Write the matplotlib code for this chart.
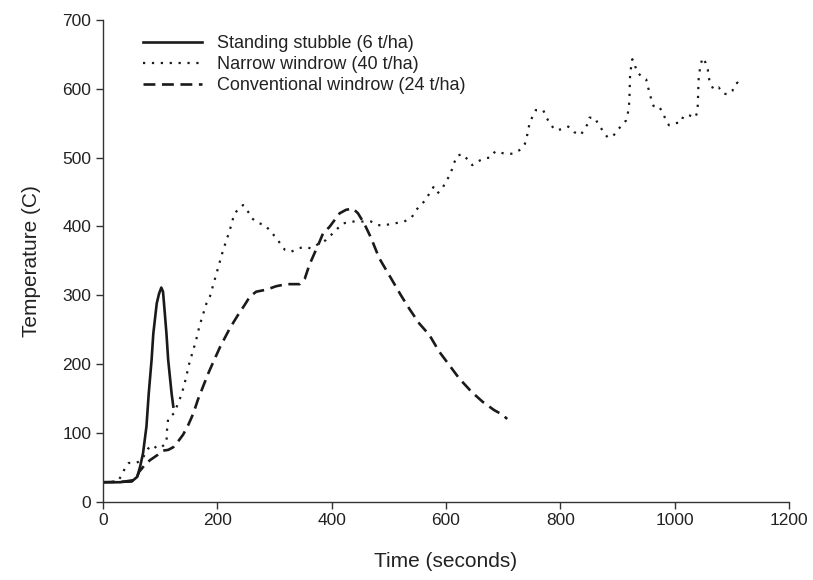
import matplotlib
matplotlib.use("Agg")
import matplotlib.pyplot as plt

plt.rcParams['font.family'] = ['Liberation Sans', 'DejaVu Sans']

# Standing stubble (6 t/ha)
stub_t = [0, 30, 53, 60, 65, 70, 76, 80, 85, 88, 94, 98, 102, 105, 108, 111, 114, 120, 123]
stub_T = [28, 28, 31, 36, 51, 70, 109, 157, 206, 244, 288, 302, 311, 305, 275, 244, 206, 157, 138]

# Narrow windrow (40 t/ha)
narrow_t = [0, 25, 33, 38, 45, 58, 67, 73, 79, 88, 94, 102, 111, 112, 114, 117, 124, 130, 138, 145,
            150, 163, 169, 181, 187, 198, 210, 222, 230, 245, 254, 260, 271, 283, 294, 303, 318, 329,
            341, 353, 364, 378, 390, 402, 419, 434, 452, 469, 480, 492, 504, 515, 527, 540, 548, 556,
            565, 571, 578, 585, 594, 599, 606, 611, 614, 620, 629, 638, 646, 655, 667, 678, 686, 696,
            707, 719, 731, 738, 741, 744, 746, 751, 757, 770, 776, 782, 791, 802, 814, 824, 836, 842,
            849, 851, 860, 867, 875, 883, 893, 901, 909, 915, 918, 920, 921, 922, 924, 926, 931, 934,
            941, 950, 953, 956, 959, 963, 972, 978, 984, 990, 1001, 1011, 1015, 1024, 1036, 1040, 1041,
            1042, 1045, 1049, 1054, 1058, 1059, 1062, 1068, 1077, 1085, 1093, 1101, 1105, 1110, 1116]
narrow_T = [28, 29, 38, 48, 56, 56, 60, 68, 77, 82, 77, 79, 85, 104, 121, 123, 128, 140, 157, 179,
            198, 235, 256, 288, 298, 330, 365, 395, 419, 431, 421, 412, 405, 402, 392, 383, 366, 363,
            368, 370, 368, 375, 380, 390, 404, 407, 407, 407, 402, 401, 404, 405, 407, 413, 424, 431,
            439, 448, 457, 448, 455, 465, 473, 484, 492, 503, 505, 497, 489, 494, 499, 500, 509, 507,
            505, 506, 512, 520, 529, 540, 550, 559, 569, 569, 558, 549, 540, 541, 545, 537, 533, 542,
            550, 558, 558, 548, 538, 529, 532, 541, 548, 554, 564, 574, 590, 620, 633, 643, 633, 624,
            619, 614, 604, 594, 585, 575, 575, 567, 556, 547, 550, 551, 560, 562, 558, 567, 590,
            615, 634, 645, 638, 628, 618, 609, 599, 602, 593, 592, 597, 606, 609, 600]

# Conventional windrow (24 t/ha)
conv_t = [0, 50, 58, 63, 73, 82, 96, 105, 114, 123, 131, 140, 149, 158, 166, 175, 184, 193, 205, 222,
          236, 248, 257, 268, 286, 303, 321, 344, 353, 361, 370, 379, 385, 396, 405, 414, 425, 437,
          446, 457, 469, 483, 495, 507, 521, 536, 553, 571, 588, 606, 623, 644, 664, 684, 699, 707]
conv_T = [28, 29, 33, 43, 53, 60, 68, 74, 75, 79, 87, 97, 111, 128, 148, 167, 186, 203, 225, 252,
          271, 286, 298, 305, 308, 313, 316, 316, 324, 344, 361, 378, 390, 399, 409, 419, 424, 426,
          419, 404, 383, 354, 337, 320, 300, 280, 259, 242, 218, 198, 179, 160, 145, 133, 126, 120]

labels = ["Standing stubble (6 t/ha)", "Narrow windrow (40 t/ha)", "Conventional windrow (24 t/ha)"]
xticks = [0, 200, 400, 600, 800, 1000, 1200]
yticks = [0, 100, 200, 300, 400, 500, 600, 700]

fig = plt.figure(figsize=(8.13, 5.8), dpi=100)
ax = fig.add_axes([103/813, 1-501.5/580, (789-103)/813, (501.5-20)/580])

col = '#1a1a1a'
ax.plot(stub_t, stub_T, color=col, lw=1.9, linestyle='-', label=labels[0])
ax.plot(narrow_t, narrow_T, color=col, lw=1.6, linestyle=(0, (1, 3.0)), label=labels[1])
ax.plot(conv_t, conv_T, color=col, lw=1.9, linestyle=(0, (4.5, 2.5)), label=labels[2])

ax.set_xlim(0, 1200)
ax.set_ylim(0, 700)
ax.set_xticks(xticks)
ax.set_yticks(yticks)
for s in ['top', 'right']:
    ax.spines[s].set_visible(False)
for s in ['left', 'bottom']:
    ax.spines[s].set_color('#333333')
    ax.spines[s].set_linewidth(1.0)
ax.tick_params(direction='out', length=5, width=1.0, colors='#333333', labelsize=12.5, labelcolor='#222222')
ax.set_xlabel("Time (seconds)", fontsize=15, color='#222222', labelpad=17)
ax.set_ylabel("Temperature (C)", fontsize=15, color='#222222', labelpad=15)

leg = ax.legend(loc='upper left', bbox_to_anchor=(0.058, 0.968), frameon=False, fontsize=13,
                handlelength=3.3, handletextpad=0.83, labelspacing=0.22, borderaxespad=0, borderpad=0)
for t in leg.get_texts():
    t.set_color('#222222')

fig.savefig("out.png", dpi=100)
